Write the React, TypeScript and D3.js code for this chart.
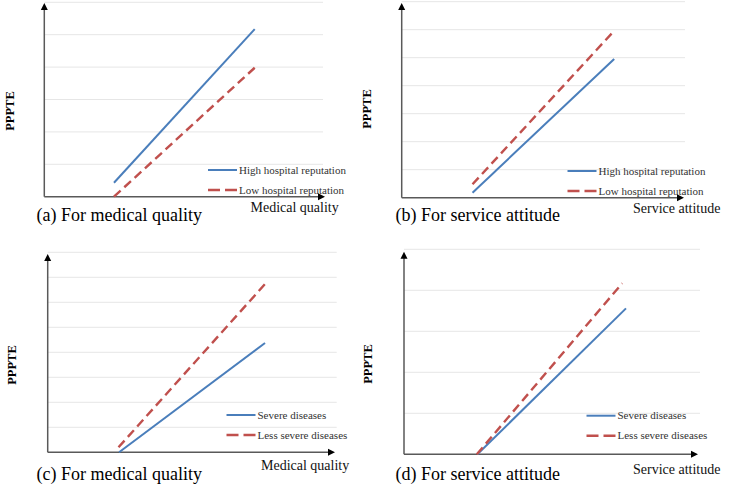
import { scaleLinear, line } from "d3";

// four interaction plots (simple slopes)
// x in 0..10 units along the axis, y in gridline units

const aHigh = [[2.5, 0.43], [7.55, 5.17]];
const aLow = [[2.5, 0.0], [7.55, 3.98]];
const bHigh = [[2.5, 0.18], [7.5, 4.95]];
const bLow = [[2.5, 0.48], [7.5, 5.96]];
const cSevere = [[2.47, 0.0], [7.52, 4.37]];
const cLess = [[2.45, 0.2], [7.52, 6.73]];
const dSevere = [[2.48, 0.0], [7.5, 3.56]];
const dLess = [[2.46, 0.0], [7.37, 4.17]];

const reputationLabels = ["High hospital reputation", "Low hospital reputation"];
const severityLabels = ["Severe diseases", "Less severe diseases"];
const captions = [
  "(a) For medical quality",
  "(b) For service attitude",
  "(c) For medical quality",
  "(d) For service attitude",
];
const xTitles = ["Medical quality", "Service attitude", "Medical quality", "Service attitude"];

const BLUE = "#4a7ebb";
const RED = "#c0504d";
const SERIF = "'Liberation Serif', 'Times New Roman', serif";

type Panel = {
  solid: number[][];
  dashed: number[][];
  legend: string[];
  caption: string;
  xTitle: string;
  axisX: number;
  axisY: number;
  gridEnd: number;
  arrowEnd: number;
  arrowTop: number;
  topGrid: number;
  nGrid: number;
  legendX: number;
  legendY: number;
  xTitleX: number;
  xTitleY: number;
  captionX: number;
  captionY: number;
  yLabelX: number;
  yLabelY: number;
};

const panels: Panel[] = [
  {
    solid: aHigh, dashed: aLow, legend: reputationLabels, caption: captions[0], xTitle: xTitles[0],
    axisX: 44.3, axisY: 196.7, gridEnd: 323, arrowEnd: 325, arrowTop: 3, topGrid: 2.3, nGrid: 6,
    legendX: 208, legendY: 170, xTitleX: 250.5, xTitleY: 212, captionX: 36.5, captionY: 221,
    yLabelX: 10, yLabelY: 111,
  },
  {
    solid: bHigh, dashed: bLow, legend: reputationLabels, caption: captions[1], xTitle: xTitles[1],
    axisX: 401.7, axisY: 197.7, gridEnd: 685, arrowEnd: 684, arrowTop: 3, topGrid: 1.7, nGrid: 7,
    legendX: 567.5, legendY: 171, xTitleX: 633, xTitleY: 213, captionX: 395.5, captionY: 221,
    yLabelX: 367, yLabelY: 109,
  },
  {
    solid: cSevere, dashed: cLess, legend: severityLabels, caption: captions[2], xTitle: xTitles[2],
    axisX: 47.7, axisY: 452.3, gridEnd: 336.7, arrowEnd: 335, arrowTop: 254, topGrid: 252.3, nGrid: 8,
    legendX: 226.5, legendY: 415, xTitleX: 261, xTitleY: 470, captionX: 36.5, captionY: 480,
    yLabelX: 12, yLabelY: 365,
  },
  {
    solid: dSevere, dashed: dLess, legend: severityLabels, caption: captions[3], xTitle: xTitles[3],
    axisX: 404, axisY: 454.3, gridEnd: 700, arrowEnd: 698, arrowTop: 251.7, topGrid: 249.3, nGrid: 5,
    legendX: 586.5, legendY: 415.7, xTitleX: 633, xTitleY: 473.5, captionX: 395.5, captionY: 479.5,
    yLabelX: 368, yLabelY: 364,
  },
];

const PanelChart = ({ p }: { p: Panel }) => {
  const x = scaleLinear().domain([0, 10]).range([p.axisX, p.gridEnd]);
  const y = scaleLinear().domain([0, p.nGrid]).range([p.axisY, p.topGrid]);
  const path = line<number[]>()
    .x((d) => x(d[0]))
    .y((d) => y(d[1]));
  const grid = Array.from({ length: p.nGrid }, (_, i) => i + 1);

  return (
    <g>
      {grid.map((g) => (
        <line key={g} x1={p.axisX} x2={p.gridEnd} y1={y(g)} y2={y(g)} stroke="#e6e6e6" strokeWidth={1} />
      ))}
      {/* axes with arrowheads */}
      <line x1={p.axisX} x2={p.axisX} y1={p.axisY} y2={p.arrowTop + 5} stroke="#595959" strokeWidth={1.5} />
      <path d={`M${p.axisX},${p.arrowTop} L${p.axisX - 3.5},${p.arrowTop + 7} L${p.axisX + 3.5},${p.arrowTop + 7} Z`} fill="#000" />
      <line x1={p.axisX} x2={p.arrowEnd - 5} y1={p.axisY} y2={p.axisY} stroke="#595959" strokeWidth={1.5} />
      <path d={`M${p.arrowEnd},${p.axisY} L${p.arrowEnd - 7},${p.axisY - 3.5} L${p.arrowEnd - 7},${p.axisY + 3.5} Z`} fill="#000" />

      <path d={path(p.solid) ?? ""} fill="none" stroke={BLUE} strokeWidth={2} />
      <path d={path(p.dashed) ?? ""} fill="none" stroke={RED} strokeWidth={2.4} strokeDasharray="9,5" />

      {/* legend */}
      <line x1={p.legendX} x2={p.legendX + 29} y1={p.legendY} y2={p.legendY} stroke={BLUE} strokeWidth={2} />
      <text x={p.legendX + 31} y={p.legendY + 3.5} fontFamily={SERIF} fontSize={11} fill="#333">
        {p.legend[0]}
      </text>
      <line x1={p.legendX} x2={p.legendX + 29} y1={p.legendY + 20} y2={p.legendY + 20} stroke={RED} strokeWidth={2.4} strokeDasharray="12,5" />
      <text x={p.legendX + 31} y={p.legendY + 23.5} fontFamily={SERIF} fontSize={11} fill="#333">
        {p.legend[1]}
      </text>

      <text
        transform={`translate(${p.yLabelX},${p.yLabelY}) rotate(-90)`}
        textAnchor="middle"
        dy="0.35em"
        fontFamily={SERIF}
        fontWeight="bold"
        fontSize={12.5}
        fill="#000"
      >
        PPPTE
      </text>
      <text x={p.xTitleX} y={p.xTitleY} fontFamily={SERIF} fontSize={14} fill="#111">
        {p.xTitle}
      </text>
      <text x={p.captionX} y={p.captionY} fontFamily={SERIF} fontSize={18} fill="#000">
        {p.caption}
      </text>
    </g>
  );
};

export default function App() {
  return (
    <svg
      width={731}
      height={486}
      style={{ position: "absolute", left: 0, top: 0, background: "#fff" }}
    >
      <rect width={731} height={486} fill="#fff" />
      {panels.map((p, i) => (
        <PanelChart key={i} p={p} />
      ))}
    </svg>
  );
}
